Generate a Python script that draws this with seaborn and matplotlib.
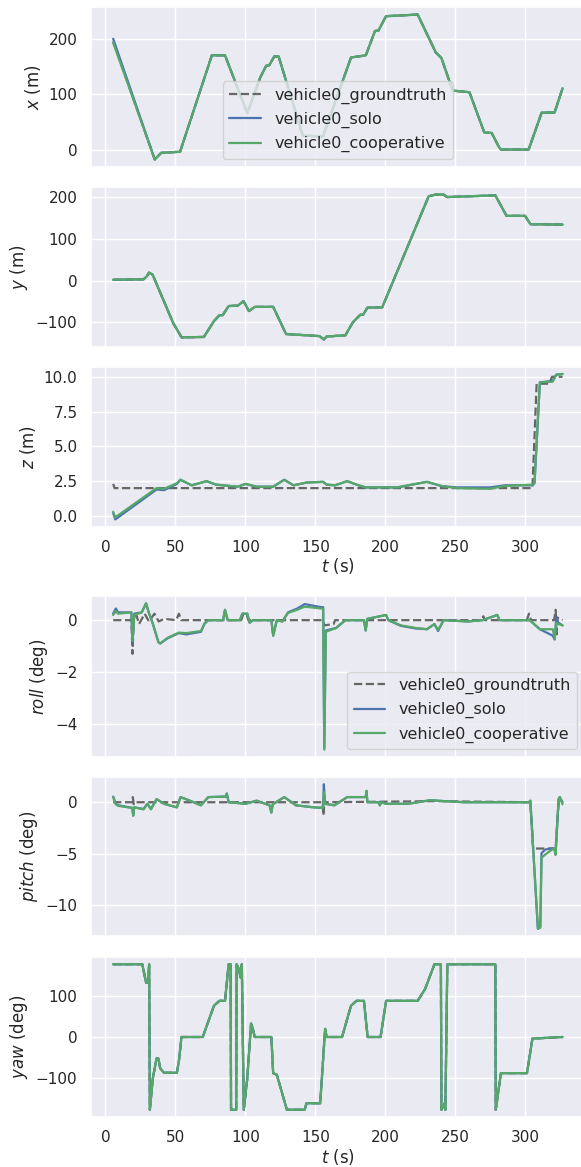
import numpy as np
import pandas as pd
import matplotlib
matplotlib.use("Agg")
import matplotlib.pyplot as plt
import seaborn as sns

# ---- position x (m) ----
x_t = [5.5, 35.2, 39.8, 53.3, 76, 85.4, 101.3, 110.6, 114.8, 117, 120.6, 123.7, 141, 155.4,
       175.4, 186, 192.5, 195, 200.4, 223, 236, 240, 248, 260, 270.6, 275.9, 281, 282.5,
       302.3, 311.6, 320.8, 326.5]
x_gt = [196, -18, -6, -4, 171, 171, 66, 131, 152, 153, 169, 169, 25, 24,
        167, 171, 215, 216, 242, 245, 176, 166, 107, 104, 31, 30, 5, 0,
        0, 67, 67, 111]
x_solo = [201, -18, -6, -4, 171, 171, 66, 131, 152, 153, 169, 169, 25, 24,
          167, 171, 215, 216, 242, 245, 176, 166, 107, 104, 31, 30, 5, 0,
          0, 67, 67, 111]
x_coop = [194, -18, -6, -4, 171, 171, 66, 131, 152, 153, 169, 169, 25, 24,
          167, 171, 215, 216, 242, 245, 176, 166, 107, 104, 31, 30, 5, 0,
          0, 67, 67, 111]

# ---- position y (m) ----
y_t = [5.5, 27.2, 29.5, 31.1, 33.7, 48.4, 54.4, 70.3, 77.5, 81.4, 83.7, 88, 94.6, 98.6,
       102.5, 106.6, 119.8, 129, 138.4, 152.9, 156, 158, 171.4, 176.7, 182, 184, 187.1,
       197.7, 230.9, 236, 241.5, 244, 278.5, 286.5, 299.7, 303.6, 326.5]
y_gt = [2, 3, 10, 19, 14, -102, -136, -135, -97, -83, -83, -61, -60, -49,
        -73, -63, -63, -128, -130, -133, -141, -134, -131, -100, -82, -82, -65,
        -64, 202, 206, 206, 200, 204, 155, 155, 135, 134]
y_solo = y_gt
y_coop = y_gt

# ---- position z (m) ----
z_gt_t = [5.5, 6.5, 305, 308, 317, 319, 326.5]
z_gt = [2.3, 2.0, 2.0, 9.5, 9.5, 10.0, 10.0]
z_t = [5.5, 7, 36.5, 41.8, 51, 53.6, 61.6, 72.2, 79, 94.6, 100, 108, 119.8, 127.7, 134.4,
       143.6, 155.4, 158, 164, 172.7, 179.3, 185.9, 208.4, 229.6, 240, 250.8, 274.6,
       285.3, 305, 306.5, 310.3, 319.5, 322, 326.5]
z_solo = [0.2, -0.25, 1.9, 1.85, 2.3, 2.6, 2.2, 2.5, 2.25, 2.1, 2.3, 2.1, 2.1, 2.6, 2.2,
          2.4, 2.45, 2.25, 2.2, 2.5, 2.25, 2.05, 2.05, 2.45, 2.15, 2.05, 2.05,
          2.2, 2.2, 2.35, 9.6, 9.7, 10.15, 10.2]
z_coop = [0.3, -0.1, 2.0, 1.95, 2.35, 2.6, 2.2, 2.5, 2.25, 2.1, 2.3, 2.1, 2.1, 2.6, 2.2,
          2.4, 2.45, 2.25, 2.2, 2.5, 2.25, 2.05, 2.05, 2.45, 2.15, 2.0, 1.95,
          2.15, 2.25, 2.4, 9.6, 9.65, 10.15, 10.2]

# ---- roll (deg) ----
roll_gt_t = [5.5, 18.5, 19.3, 20.2, 21.5, 24, 28, 31, 35, 38, 42, 50.5, 52.5, 54, 97, 98.5,
             101, 102, 155, 156.5, 163, 164, 268, 270, 271, 301, 302.5, 304, 320.5, 321.6,
             322.3, 323, 326.5]
roll_gt = [0, 0, -1.3, 0.05, 0.3, -0.15, 0.25, -0.05, 0.25, -0.05, 0.05, 0, 0.25, 0, 0, 0.25,
           0.2, 0, 0, -0.2, -0.15, 0, 0, 0.15, 0, 0, 0.25, 0, 0, 0.4,
           -0.55, 0.1, 0]
roll_t = [5.5, 7.4, 9, 18.5, 19.3, 20.6, 25.9, 29, 31.2, 33.8, 37.8, 39.1, 44.4, 52.4, 57.6,
          68.2, 70.8, 73.5, 84, 85.4, 87.3, 96, 97.8, 101.3, 103, 105.3, 118.5, 119.8, 122.4,
          126.4, 130.4, 137, 142.3, 154.2, 155.5, 156.3, 157.4, 164.8, 171.4, 184.6, 185.9,
          187, 200.5, 202, 211, 221.6, 229.6, 235, 237.6, 241.5, 258.8, 269.4, 279.9, 281.5,
          303, 310.3, 319.5, 320.9, 322, 323.5, 326.5]
roll_solo = [0.25, 0.45, 0.3, 0.3, -0.85, 0.25, 0.3, 0.65, 0.25, -0.13, -0.85, -0.9, -0.7, -0.5,
             -0.55, -0.45, -0.13, 0, 0, 0.4, 0, 0, 0.25, 0.25, -0.1, 0, 0, -0.6, 0,
             -0.05, 0.3, 0.45, 0.62, 0.5, 0.5, -4.95, -0.4, -0.3, 0, 0, -0.4,
             0.05, 0.2, 0, -0.22, -0.32, -0.35, -0.15, -0.42, 0, -0.05, 0, 0.2, 0,
             0, -0.35, -0.6, -0.75, 0.1, -0.1, -0.2]
roll_coop = [0.2, 0.35, 0.25, 0.3, -0.8, 0.2, 0.3, 0.65, 0.25, -0.13, -0.85, -0.9, -0.68, -0.48,
             -0.5, -0.42, -0.13, 0, 0, 0.4, 0, 0, 0.25, 0.25, -0.1, 0, 0, -0.6, 0,
             -0.05, 0.28, 0.4, 0.52, 0.45, 0.45, -5.0, -0.45, -0.3, 0, 0, -0.4,
             0.05, 0.2, 0, -0.2, -0.3, -0.35, -0.15, -0.38, 0, -0.05, 0, 0.2, 0,
             0, -0.35, -0.35, -0.7, -0.1, -0.15, -0.2]

# ---- pitch (deg) ----
pitch_gt_t = [5.5, 19, 19.5, 20.2, 21, 155, 155.7, 156.5, 157.3, 235, 303.5, 305.5,
              320.6, 321.5, 323.7, 326.5]
pitch_gt = [0, 0, 0.5, -0.2, 0, 0, -1.3, 0.2, 0, 0.1, 0, -4.5,
            -4.5, -4.6, 0, 0]
pitch_t = [5.5, 7.4, 9, 19.2, 19.8, 20.5, 27.2, 29.9, 32.5, 36.5, 41.8, 51, 53.6, 60.3, 68.2,
           73.5, 86, 86.7, 88, 100, 108, 117.2, 118.5, 119.5, 127.7, 133, 136, 149, 155.5,
           156, 156.9, 163.5, 172.7, 185.9, 186.5, 187.1, 195, 196, 197, 200.5, 216.4, 232.2,
           242.8, 256, 302.4, 303.5, 308.9, 310.6, 311.5, 314, 320.6, 321.5, 323.7, 324.5,
           326.5]
pitch_solo = [0.55, -0.15, -0.3, -0.55, -1.3, -0.5, -0.65, -0.15, -0.65, 0.3, -0.15, -0.5, 0.5,
              0.15, -0.3, 0.5, 0.55, 0.85, 0, -0.15, 0.15, -0.3, -1.0, -0.2, 0.5, 0, -0.3,
              -0.5, -0.55, 1.75, -0.15, -0.3, 0.5, 0.5, 1.1, 0, 0, -0.3, 0, -0.15, -0.15,
              0.2, 0.1, 0, 0, 0.15, -12.3, -12.1, -4.95, -4.6, -4.45, -5.1, 0.3, 0.5,
              0]
pitch_coop = [0.5, -0.2, -0.35, -0.55, -1.3, -0.5, -0.7, -0.15, -0.7, 0.3, -0.15, -0.5, 0.5,
              0.15, -0.3, 0.5, 0.55, 0.85, 0, -0.15, 0.15, -0.3, -1.0, -0.2, 0.5, 0, -0.3,
              -0.5, -0.55, 1.0, -0.15, -0.3, 0.5, 0.5, 1.1, 0, 0, -0.3, 0, -0.15, -0.15,
              0.2, 0.1, 0, 0, 0.15, -12.3, -12.2, -5.4, -5.1, -4.45, -5.1, 0.3, 0.5,
              -0.2]

# ---- yaw (deg) ----
yaw_t = [5.5, 26.3, 29, 30.4, 31.2, 31.7, 33.8, 36.5, 37.8, 39.1, 41.8, 51, 52.4, 54.3, 69.5,
         77.5, 81.4, 85.4, 88, 89.4, 89.7, 93.4, 93.7, 95.3, 96.6, 97.4, 98.8, 101.3, 104,
         105.3, 106.6, 118.5, 119.8, 122.4, 129.6, 142.3, 143.6, 153.4, 156.9, 158, 169,
         175.4, 179.3, 184.6, 187.3, 196.5, 200.5, 223, 228.3, 235, 239.6, 240, 242.3,
         242.8, 244.2, 278.5, 278.8, 282.5, 301.1, 305, 326.5]
yaw_gt = [179, 179, 134, 134, 179, -179, -102, -53, -53, -77, -88, -88, -61, 0, 0,
          77, 89, 89, 179, 179, -179, -179, 179, 167, 146, 179, -179, -102, 33,
          20, 0, 0, -89, -93, -179, -179, -163, -163, 20, 0, 0,
          77, 89, 89, 0, 0, 89, 89, 118, 179, 179, -179, -163,
          -179, 179, 179, -179, -89, -89, -4, 0]
yaw_solo = yaw_gt
yaw_coop = yaw_gt

labels = ["vehicle0_groundtruth", "vehicle0_solo", "vehicle0_cooperative"]
ylabels = ["$x$ (m)", "$y$ (m)", "$z$ (m)", "$roll$ (deg)", "$pitch$ (deg)", "$yaw$ (deg)"]

panels = [
    ((x_t, x_gt), (x_t, x_solo), (x_t, x_coop)),
    ((y_t, y_gt), (y_t, y_solo), (y_t, y_coop)),
    ((z_gt_t, z_gt), (z_t, z_solo), (z_t, z_coop)),
    ((roll_gt_t, roll_gt), (roll_t, roll_solo), (roll_t, roll_coop)),
    ((pitch_gt_t, pitch_gt), (pitch_t, pitch_solo), (pitch_t, pitch_coop)),
    ((yaw_t, yaw_gt), (yaw_t, yaw_solo), (yaw_t, yaw_coop)),
]
yticks = [[0, 100, 200], [-100, 0, 100, 200], [0, 2.5, 5, 7.5, 10],
          [-4, -2, 0], [-10, -5, 0], [-100, 0, 100]]

sns.set_theme(style="darkgrid", context="notebook")
pal = sns.color_palette("deep")
colors = ["0.4", pal[0], pal[2]]
styles = ["--", "-", "-"]

W, H = 581, 1167
fig = plt.figure(figsize=(W / 100, H / 100), dpi=100)
rows = [(7.3, 166.7), (187.3, 346.7), (366.7, 526.7), (596, 757), (777, 936), (957, 1117)]
left, right = 90.7, 585

for i, (top, bot) in enumerate(rows):
    ax = fig.add_axes([left / W, 1 - bot / H, (right - left) / W, (bot - top) / H])
    for (tt, vv), lab, c, ls in zip(panels[i], labels, colors, styles):
        sns.lineplot(x=tt, y=vv, ax=ax, color=c, linestyle=ls, label=lab, sort=False,
                     linewidth=1.6)
    ax.set_ylabel(ylabels[i])
    ax.set_yticks(yticks[i])
    ax.set_xticks([0, 50, 100, 150, 200, 250, 300])
    if i in (2, 5):
        ax.set_xlabel("$t$ (s)", labelpad=1)
    else:
        ax.set_xlabel("")
        ax.tick_params(labelbottom=False)
    if i == 0:
        ax.legend(loc="lower center", fontsize=11.5)
    elif i == 3:
        ax.legend(loc="lower right", fontsize=11.5)
    else:
        ax.get_legend().remove()

fig.savefig("out.png", dpi=100)
